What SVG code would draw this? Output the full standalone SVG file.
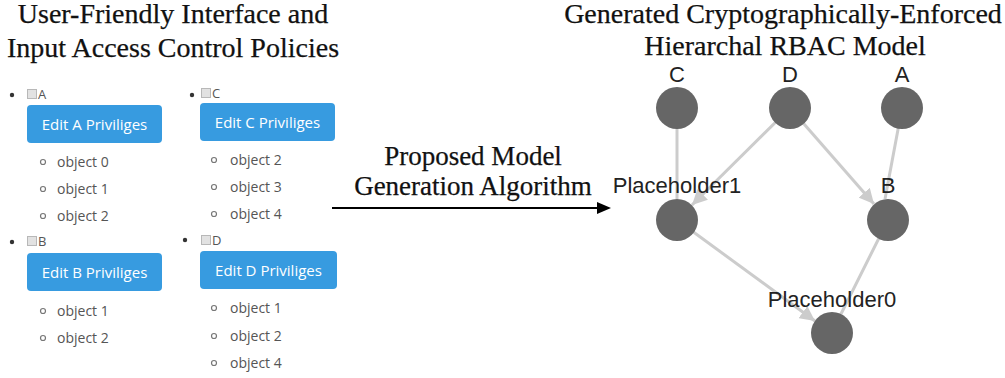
<svg xmlns="http://www.w3.org/2000/svg" width="1005" height="378" viewBox="0 0 1005 378">
  <style>
    .title { font-family: "Liberation Serif", "Times New Roman", serif; font-size: 28px; fill: #111; stroke: #111; stroke-width: 0.25; text-anchor: middle; }
    .mid { font-family: "Liberation Serif", "Times New Roman", serif; font-size: 27px; fill: #111; stroke: #111; stroke-width: 0.25; text-anchor: middle; }
    .bullet { fill: #333; }
    .chk { fill: #e2e2e2; stroke: #b8b8b8; stroke-width: 1; }
    .chklbl { font-family: "Open Sans", "Noto Sans", sans-serif; font-size: 13px; fill: #555; }
    .btn { fill: #379be0; }
    .btntxt { font-family: "Open Sans", "Noto Sans", sans-serif; font-size: 15px; fill: #fff; text-anchor: middle; }
    .sub { fill: none; stroke: #777; stroke-width: 1.2; }
    .item { font-family: "Open Sans", "Noto Sans", sans-serif; font-size: 14px; fill: #555; }
    .edge { stroke: #cccccc; stroke-width: 3; fill: none; }
    .node { fill: #666666; }
    .nlabel { font-family: "Liberation Sans", Arial, sans-serif; font-size: 22px; fill: #222; text-anchor: middle; }
  </style>
  <defs>
    <marker id="gArrow" viewBox="0 0 10 10" refX="10" refY="5" markerWidth="5" markerHeight="5" markerUnits="strokeWidth" orient="auto">
      <path d="M0,0 L10,5 L0,10 z" fill="#cccccc"/>
    </marker>
  </defs>

  <!-- headings -->
  <text class="title" x="173" y="23">User-Friendly Interface and</text>
  <text class="title" x="173" y="57">Input Access Control Policies</text>
  <text class="title" x="783" y="23">Generated Cryptographically-Enforced</text>
  <text class="title" x="785" y="55">Hierarchal RBAC Model</text>

  <!-- policy editor: role A -->
  <g id="role-A">
    <circle class="bullet" cx="12" cy="95" r="2.2"/>
    <rect class="chk" x="27.5" y="89.5" width="9" height="9"/>
    <text class="chklbl" x="38" y="99">A</text>
    <rect class="btn" x="27" y="105" width="135" height="38" rx="4"/>
    <text class="btntxt" x="94.5" y="130">Edit A Priviliges</text>
    <circle class="sub" cx="43" cy="162" r="2.5"/>
    <text class="item" x="57" y="167">object 0</text>
    <circle class="sub" cx="43" cy="189" r="2.5"/>
    <text class="item" x="57" y="194">object 1</text>
    <circle class="sub" cx="43" cy="216" r="2.5"/>
    <text class="item" x="57" y="221">object 2</text>
  </g>

  <!-- policy editor: role C -->
  <g id="role-C">
    <circle class="bullet" cx="192" cy="95" r="2.2"/>
    <rect class="chk" x="201.5" y="88.5" width="9" height="9"/>
    <text class="chklbl" x="212" y="98">C</text>
    <rect class="btn" x="200" y="103" width="135" height="38" rx="4"/>
    <text class="btntxt" x="267.5" y="128">Edit C Priviliges</text>
    <circle class="sub" cx="214" cy="160" r="2.5"/>
    <text class="item" x="230" y="165">object 2</text>
    <circle class="sub" cx="214" cy="187" r="2.5"/>
    <text class="item" x="230" y="192">object 3</text>
    <circle class="sub" cx="214" cy="214" r="2.5"/>
    <text class="item" x="230" y="219">object 4</text>
  </g>

  <!-- policy editor: role B -->
  <g id="role-B">
    <circle class="bullet" cx="12" cy="242" r="2.2"/>
    <rect class="chk" x="27.5" y="236.5" width="9" height="9"/>
    <text class="chklbl" x="38" y="246">B</text>
    <rect class="btn" x="27" y="253" width="135" height="38" rx="4"/>
    <text class="btntxt" x="94.5" y="278">Edit B Priviliges</text>
    <circle class="sub" cx="43" cy="311" r="2.5"/>
    <text class="item" x="57" y="316">object 1</text>
    <circle class="sub" cx="43" cy="338" r="2.5"/>
    <text class="item" x="57" y="343">object 2</text>
  </g>

  <!-- policy editor: role D -->
  <g id="role-D">
    <circle class="bullet" cx="185" cy="240" r="2.2"/>
    <rect class="chk" x="201.5" y="235.5" width="9" height="9"/>
    <text class="chklbl" x="212" y="245">D</text>
    <rect class="btn" x="200" y="251" width="137" height="38" rx="4"/>
    <text class="btntxt" x="268.5" y="276">Edit D Priviliges</text>
    <circle class="sub" cx="214" cy="308" r="2.5"/>
    <text class="item" x="230" y="313">object 1</text>
    <circle class="sub" cx="214" cy="336" r="2.5"/>
    <text class="item" x="230" y="341">object 2</text>
    <circle class="sub" cx="214" cy="363" r="2.5"/>
    <text class="item" x="230" y="368">object 4</text>
  </g>

  <!-- generation step -->
  <g id="generation-step">
    <text class="mid" x="473" y="165">Proposed Model</text>
    <text class="mid" x="473" y="195">Generation Algorithm</text>
    <line x1="332" y1="208" x2="599" y2="208" stroke="#000" stroke-width="2.2"/>
    <path d="M597,202 L611,208 L597,214 z" fill="#000"/>
  </g>

  <!-- hierarchy edges -->
  <g id="connectors">
    <line class="edge" x1="677" y1="108" x2="677" y2="199"/>
    <line class="edge" x1="790" y1="108" x2="692" y2="205" marker-end="url(#gArrow)"/>
    <line class="edge" x1="790" y1="108" x2="874" y2="204" marker-end="url(#gArrow)"/>
    <line class="edge" x1="902" y1="108" x2="885" y2="199"/>
    <line class="edge" x1="677" y1="220" x2="815" y2="321" marker-end="url(#gArrow)"/>
    <line class="edge" x1="888" y1="220" x2="841" y2="314"/>
  </g>

  <!-- hierarchy nodes -->
  <g id="node-C">
    <circle class="node" cx="677" cy="108" r="21"/>
    <text class="nlabel" x="677" y="82">C</text>
  </g>
  <g id="node-D">
    <circle class="node" cx="790" cy="108" r="21"/>
    <text class="nlabel" x="790" y="82">D</text>
  </g>
  <g id="node-A">
    <circle class="node" cx="902" cy="108" r="21"/>
    <text class="nlabel" x="902" y="82">A</text>
  </g>
  <g id="node-Placeholder1">
    <circle class="node" cx="677" cy="220" r="21"/>
    <text class="nlabel" x="677" y="193">Placeholder1</text>
  </g>
  <g id="node-B">
    <circle class="node" cx="888" cy="220" r="21"/>
    <text class="nlabel" x="888" y="193">B</text>
  </g>
  <g id="node-Placeholder0">
    <circle class="node" cx="832" cy="333" r="21"/>
    <text class="nlabel" x="832" y="307">Placeholder0</text>
  </g>
</svg>
